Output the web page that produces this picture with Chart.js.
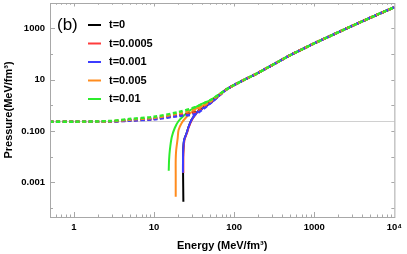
<!DOCTYPE html>
<html>
<head>
<meta charset="utf-8">
<script src="https://cdn.jsdelivr.net/npm/chart.js@4.4.1/dist/chart.umd.min.js"></script>
<style>
  html, body { margin: 0; padding: 0; background: #fff; }
  #wrap { width: 407px; height: 254px; }
</style>
</head>
<body>
<div id="wrap"><canvas id="eos"></canvas></div>
<script>
// curve labels and colours
const times = ['t=0', 't=0.0005', 't=0.001', 't=0.005', 't=0.01'];
const colors = ['#000000', '#ff3c3c', '#3c3cff', '#ff8c1e', '#2cec2c'];

// high energy branch, common to every curve
const tailE = [80, 100, 140, 198, 263, 360, 505, 700, 1000, 1500, 2550, 4000, 6300, 10000];
const tailP = [4.12, 6.17, 10.6, 18.1, 29.7, 50.8, 91, 149, 260, 465, 996, 1880, 3530, 6610];

// dashed branches (low energy part)
const dashE = [0.5, 1, 2.78, 4.9, 10, 20.3, 33, 42, 52, 65];
const dashP0 = [0.23, 0.23, 0.234, 0.261, 0.301, 0.419, 0.548, 0.85, 1.38, 2.45];
const dashP1 = [0.23, 0.23, 0.233, 0.256, 0.293, 0.401, 0.525, 0.82, 1.35, 2.42];
const dashP2 = [0.23, 0.23, 0.232, 0.251, 0.285, 0.383, 0.458, 0.75, 1.28, 2.38];
const dashP3 = [0.23, 0.23, 0.238, 0.275, 0.326, 0.48, 0.686, 1.0, 1.5, 2.55];
const dashP4 = [0.23, 0.23, 0.245, 0.293, 0.36, 0.548, 0.859, 1.2, 1.68, 2.68];

// solid branches (low energy part)
const solidE0 = [23.3, 23.1, 23.05, 23.2, 23.8, 25.6, 27.0, 29.4, 33, 35.9, 41.4, 52, 65];
const solidP0 = [0.000176, 0.00237, 0.00741, 0.0182, 0.0445, 0.0836, 0.143, 0.268, 0.458, 0.6, 0.8, 1.38, 2.45];
const solidE1 = [23.3, 23.3, 23.45, 24.05, 25.85, 27.3, 29.7, 33.3, 36.2, 41.8, 52, 65];
const solidP1 = [0.0023, 0.00741, 0.0182, 0.0445, 0.0836, 0.143, 0.268, 0.458, 0.6, 0.8, 1.35, 2.42];
const solidE2 = [23.0, 23.05, 23.2, 23.8, 25.6, 27.0, 29.4, 33, 35.9, 41.4, 52, 65];
const solidP2 = [0.00237, 0.00741, 0.0182, 0.0445, 0.0836, 0.143, 0.268, 0.458, 0.6, 0.8, 1.28, 2.38];
const solidE3 = [18.7, 18.7, 18.7, 18.96, 19.8, 20.3, 22.2, 24.8, 28.6, 33, 41.4, 52, 65];
const solidP3 = [0.000276, 0.00193, 0.00741, 0.0182, 0.0533, 0.109, 0.205, 0.32, 0.501, 0.72, 1.0, 1.5, 2.55];
const solidE4 = [15.3, 15.45, 15.8, 16.7, 18.2, 20.3, 24.1, 28.6, 35.9, 52, 65];
const solidP4 = [0.00284, 0.00741, 0.0182, 0.0583, 0.131, 0.245, 0.419, 0.656, 0.98, 1.68, 2.68];

// axis ticks (null = unlabelled)
const xTicks = [1, 10, 100, 1000, 10000];
const xTickLabels = ['1', '10', '100', '1000', '10\u2074'];
const yTicks = [1e-4, 1e-3, 1e-2, 1e-1, 1, 10, 100, 1000];
const yTickLabels = [null, '0.001', null, '0.100', null, '10', null, '1000'];
const refLine = 0.245;

const dashPs = [dashP0, dashP1, dashP2, dashP3, dashP4];
const solidEs = [solidE0, solidE1, solidE2, solidE3, solidE4];
const solidPs = [solidP0, solidP1, solidP2, solidP3, solidP4];

function withTail(es, ps) {
  const e = es.concat(tailE), p = ps.concat(tailP);
  return e.map((v, i) => ({ x: v, y: p[i] }));
}

const datasets = [];
// dashed on top, green first
const dashOrder = [4, 3, 2, 1, 0];
times.forEach((t, i) => {
  datasets.push({
    label: t + ' dashed',
    data: withTail(dashE, dashPs[i]),
    borderColor: colors[i],
    borderWidth: 2.4,
    borderDash: [4, 2.5],
    order: dashOrder[i]
  });
});
const solidOrder = [9, 8, 7, 6, 5];
times.forEach((t, i) => {
  datasets.push({
    label: t,
    data: withTail(solidEs[i], solidPs[i]),
    borderColor: colors[i],
    borderWidth: 2,
    order: solidOrder[i]
  });
});

const FRAME = '#a8a8a8';

const framePlugin = {
  id: 'frame',
  beforeDatasetsDraw(chart) {
    const { ctx, chartArea: a, scales: { y } } = chart;
    const py = Math.round(y.getPixelForValue(refLine)) + 0.5;
    ctx.save();
    ctx.strokeStyle = '#d0d0d0';
    ctx.lineWidth = 1;
    ctx.beginPath();
    ctx.moveTo(a.left, py);
    ctx.lineTo(a.right, py);
    ctx.stroke();
    ctx.restore();
  },
  afterDatasetsDraw(chart) {
    const { ctx, chartArea: a, scales: { x, y } } = chart;
    ctx.save();
    ctx.strokeStyle = FRAME;
    ctx.lineWidth = 1;
    ctx.strokeRect(a.left + 0.5, a.top + 0.5, a.right - a.left, a.bottom - a.top);
    ctx.beginPath();
    // x ticks, bottom and top
    for (let d = -1; d < 4; d++) {
      for (let m = 1; m < 10; m++) {
        const v = m * Math.pow(10, d);
        if (v < x.min || v > x.max) continue;
        const px = Math.round(x.getPixelForValue(v)) + 0.5;
        const len = m === 1 ? 5 : 2.5;
        ctx.moveTo(px, a.bottom);
        ctx.lineTo(px, a.bottom - len);
        ctx.moveTo(px, a.top);
        ctx.lineTo(px, a.top + len * 0.7);
      }
    }
    // y ticks, left and right
    yTicks.forEach((v, i) => {
      if (v < y.min || v > y.max) return;
      const py = Math.round(y.getPixelForValue(v)) + 0.5;
      const len = yTickLabels[i] ? 5 : 3;
      ctx.moveTo(a.left, py);
      ctx.lineTo(a.left + len, py);
      ctx.moveTo(a.right, py);
      ctx.lineTo(a.right - 3, py);
    });
    ctx.stroke();

    // "(b)" and legend
    ctx.fillStyle = '#000';
    ctx.font = '17px "Liberation Sans", Arial, sans-serif';
    ctx.textBaseline = 'middle';
    ctx.fillText('(b)', 57, 25);
    ctx.font = 'bold 11px "Liberation Sans", Arial, sans-serif';
    times.forEach((t, i) => {
      const ry = 25 + i * 18.5;
      ctx.strokeStyle = colors[i];
      ctx.lineWidth = 2;
      ctx.beginPath();
      ctx.moveTo(88, ry);
      ctx.lineTo(101, ry);
      ctx.stroke();
      ctx.fillText(t, 109, ry);
    });
    ctx.restore();
  }
};

const tickFont = { family: '"Liberation Sans", Arial, sans-serif', size: 9.5, weight: 'bold' };
const titleFont = { family: '"Liberation Sans", Arial, sans-serif', size: 11, weight: 'bold' };

new Chart(document.getElementById('eos'), {
  type: 'line',
  data: { datasets },
  options: {
    responsive: true,
    maintainAspectRatio: false,
    animation: false,
    events: [],
    layout: { padding: { top: 3, right: 10, left: 0, bottom: 0 } },
    elements: { point: { radius: 0 }, line: { tension: 0.3, fill: false } },
    plugins: { legend: { display: false }, tooltip: { enabled: false } },
    scales: {
      x: {
        type: 'logarithmic',
        min: 0.505,
        max: 10000,
        grid: { display: false, drawTicks: false },
        border: { display: false },
        afterBuildTicks: s => { s.ticks = xTicks.map(v => ({ value: v })); },
        afterFit: s => { s.height = 37; },
        ticks: {
          color: '#000',
          font: tickFont,
          padding: 5,
          maxRotation: 0,
          autoSkip: false,
          callback: (v) => xTickLabels[xTicks.indexOf(v)]
        },
        title: { display: true, text: 'Energy (MeV/fm\u00b3)', color: '#000', font: titleFont, padding: { top: 0, bottom: 1 } }
      },
      y: {
        type: 'logarithmic',
        min: 4.48e-5,
        max: 9650,
        grid: { display: false, drawTicks: false },
        border: { display: false },
        afterBuildTicks: s => { s.ticks = yTicks.map(v => ({ value: v })); },
        afterFit: s => { s.width = 50; s.paddingTop = 0; s.paddingBottom = 0; },
        ticks: {
          color: '#000',
          font: tickFont,
          padding: 5,
          autoSkip: false,
          callback: (v) => yTickLabels[yTicks.indexOf(v)]
        },
        title: { display: true, text: 'Pressure(MeV/fm\u00b3)', color: '#000', font: titleFont, padding: { top: 2.5, bottom: 0 } }
      }
    }
  },
  plugins: [framePlugin]
});
</script>
</body>
</html>
